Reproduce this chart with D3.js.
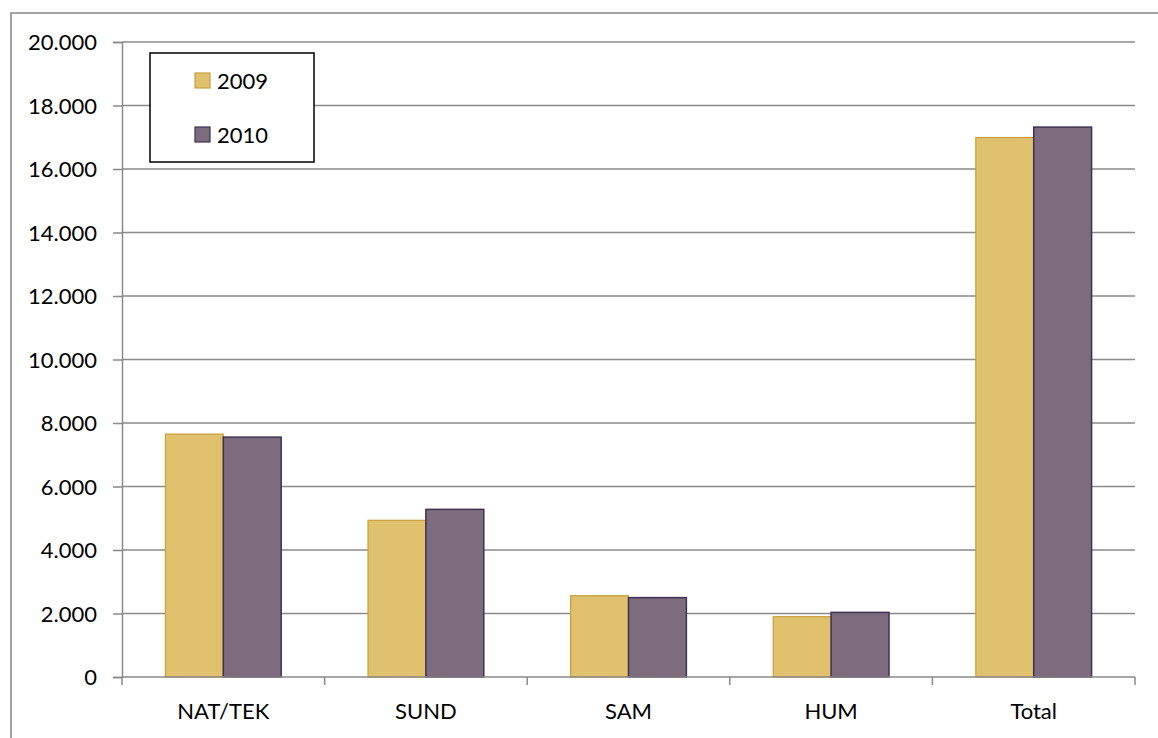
<!DOCTYPE html>
<html>
<head>
<meta charset="utf-8">
<script src="https://cdn.jsdelivr.net/npm/d3@7"></script>
<style>
  body { margin: 0; background: #fff; }
  text { font-family: Lato, "Open Sans", sans-serif; fill: #000; }
</style>
</head>
<body>
<svg width="1158" height="738"></svg>
<script>
// Data
var categories = ["NAT/TEK", "SUND", "SAM", "HUM", "Total"];
var series = ["2009", "2010"];
var values2009 = [7650, 4935, 2560, 1900, 16990];
var values2010 = [7555, 5280, 2500, 2035, 17320];
var yTicks = [0, 2000, 4000, 6000, 8000, 10000, 12000, 14000, 16000, 18000, 20000];
var colors = { "2009": "#e0c16e", "2010": "#7d6b7e" };
var strokes = { "2009": "#c9a03c", "2010": "#3f3152" };

var svg = d3.select("svg");
var plotLeft = 122, plotRight = 1135, plotTop = 42, plotBottom = 677;

// Outer chart frame (only left + top edges visible)
svg.append("path")
  .attr("d", "M11,738V13H1158")
  .attr("fill", "none")
  .attr("stroke", "#878787")
  .attr("stroke-width", 1.5);

var y = d3.scaleLinear().domain([0, 20000]).range([plotBottom, plotTop]);
var x0 = d3.scaleBand().domain(categories).range([plotLeft, plotRight]);
var bw = x0.bandwidth();
var gap = bw * 0.75 / 3.5;
var x1 = d3.scaleBand().domain(series).range([gap, bw - gap]);

// Gridlines
svg.append("g").selectAll("line")
  .data(yTicks.slice(1))
  .enter().append("line")
  .attr("x1", plotLeft).attr("x2", plotRight)
  .attr("y1", function(d) { return y(d); })
  .attr("y2", function(d) { return y(d); })
  .attr("stroke", "#8a8a8a")
  .attr("stroke-width", 1.5);

// Y axis
var fmt = function(d) { return d3.format(",")(d).replace(/,/g, "."); };
var yAxis = svg.append("g")
  .attr("transform", "translate(" + plotLeft + ",0)")
  .call(d3.axisLeft(y).tickValues(yTicks).tickFormat(fmt).tickSize(9).tickPadding(16));
yAxis.select(".domain").attr("stroke", "#8a8a8a").attr("stroke-width", 1.5);
yAxis.selectAll(".tick line").attr("stroke", "#8a8a8a").attr("stroke-width", 1.5);
yAxis.selectAll("text").style("font-size", "22px").attr("dy", "0.36em")
  .style("font-family", "Lato, 'Open Sans', sans-serif");

// Bars
var data = categories.map(function(c, i) {
  return { cat: c, vals: [ { s: "2009", v: values2009[i] }, { s: "2010", v: values2010[i] } ] };
});
var groups = svg.append("g").selectAll("g")
  .data(data)
  .enter().append("g")
  .attr("transform", function(d) { return "translate(" + x0(d.cat) + ",0)"; });
groups.selectAll("rect")
  .data(function(d) { return d.vals; })
  .enter().append("rect")
  .attr("x", function(d) { return x1(d.s); })
  .attr("width", x1.bandwidth())
  .attr("y", function(d) { return y(d.v); })
  .attr("height", function(d) { return plotBottom - y(d.v); })
  .attr("fill", function(d) { return colors[d.s]; })
  .attr("stroke", function(d) { return strokes[d.s]; })
  .attr("stroke-width", function(d) { return d.s == "2010" ? 1.5 : 1.2; });

// X axis
var xAxis = svg.append("g").attr("transform", "translate(0," + plotBottom + ")");
xAxis.append("line")
  .attr("x1", plotLeft).attr("x2", plotRight)
  .attr("stroke", "#8a8a8a").attr("stroke-width", 1.5);
var bounds = categories.map(function(c) { return x0(c); }).concat([plotRight]);
xAxis.selectAll(".xt")
  .data(bounds)
  .enter().append("line")
  .attr("class", "xt")
  .attr("x1", function(d) { return d; }).attr("x2", function(d) { return d; })
  .attr("y1", 0).attr("y2", 8)
  .attr("stroke", "#8a8a8a").attr("stroke-width", 1.5);
xAxis.selectAll(".xl")
  .data(categories)
  .enter().append("text")
  .attr("class", "xl")
  .attr("x", function(d) { return x0(d) + bw / 2; })
  .attr("y", 42)
  .attr("text-anchor", "middle")
  .style("font-size", "22px")
  .text(function(d) { return d; });

// Legend
var legend = svg.append("g");
legend.append("rect")
  .attr("x", 150).attr("y", 53).attr("width", 164).attr("height", 109)
  .attr("fill", "#fff").attr("stroke", "#000").attr("stroke-width", 1.5);
var items = legend.selectAll(".li")
  .data(series)
  .enter().append("g")
  .attr("class", "li")
  .attr("transform", function(d, i) { return "translate(195," + (73 + i * 54) + ")"; });
items.append("rect")
  .attr("width", 15).attr("height", 15)
  .attr("fill", function(d) { return colors[d]; })
  .attr("stroke", function(d) { return strokes[d]; })
  .attr("stroke-width", 1.2);
items.append("text")
  .attr("x", 22).attr("y", 16)
  .style("font-size", "22px")
  .text(function(d) { return d; });
</script>
</body>
</html>
